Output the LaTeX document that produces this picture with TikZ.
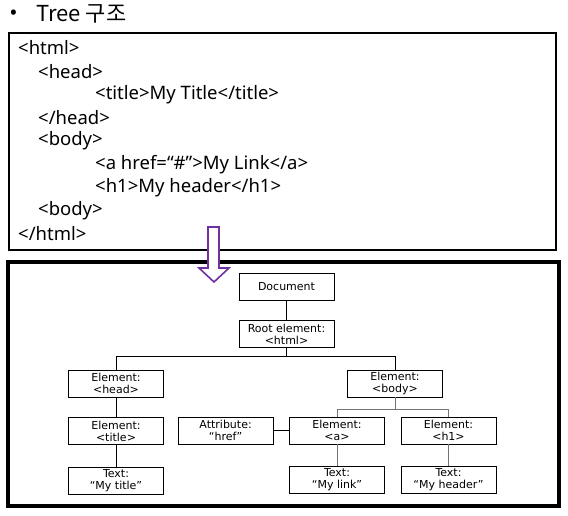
\documentclass[tikz,border=0pt]{standalone}
\usepackage{fontspec}
\setmainfont{Noto Sans}
\newfontfamily\krfont{Noto Sans CJK KR}
\newfontfamily\treefont{DejaVu Sans}
\usepackage{xcolor}
\usetikzlibrary{positioning}
\definecolor{arrowpurple}{RGB}{112,48,160}

\begin{document}
\begin{tikzpicture}[
    x=1pt, y=-1pt,
    code/.style={anchor=west, inner sep=0pt, font=\fontsize{18.5}{20}\selectfont},
    elem/.style={draw, minimum width=95pt, minimum height=27pt, inner sep=1pt, align=center,
        font=\treefont\fontsize{11}{12}\selectfont},
    link/.style={draw, line width=0.8pt},
    sublink/.style={draw=black!55, line width=0.8pt},
    node distance=20pt
]
\useasboundingbox (0,0) rectangle (568,516);

% title
\node[anchor=west, inner sep=0pt, font=\krfont\fontsize{20}{22}\selectfont] (bullet) at (10,14) {•};
\node[anchor=west, inner sep=0pt, font=\krfont\fontsize{22}{24}\selectfont] (title) at (36,14) {Tree 구조};

% html source
\draw[line width=2pt] (9,33) rectangle (556,250);
\node[code] (l0) at (18,48) {<html>};
\node[code] (l1) at (38,72) {<head>};
\node[code] (l2) at (95,95) {<title>My Title</title>};
\node[code] (l3) at (38,118) {</head>};
\node[code] (l4) at (38,141) {<body>};
\node[code] (l5) at (95,165) {<a href=“\#”>My Link</a>};
\node[code] (l6) at (95,188) {<h1>My header</h1>};
\node[code] (l7) at (38,211) {<body>};
\node[code] (l8) at (18,234) {</html>};

% tree
\draw[line width=3.5pt] (8,262) rectangle (559,506);
\node[elem] (doc) at (286.5,286.5) {Document};
\node[elem, below=of doc] (root) {Root element:\\<html>};
\node[elem] (head) at (116,383.5) {Element:\\<head>};
\node[elem, below=of head] (ttl) {Element:\\<title>};
\node[elem, below=22pt of ttl] (ttltext) {Text:\\“My title”};
\node[elem] (body) at (395,383.5) {Element:\\<body>};
\node[elem] (a) at (337,430.5) {Element:\\<a>};
\node[elem, below=22pt of a] (atext) {Text:\\“My link”};
\node[elem, left=16pt of a] (attr) {Attribute:\\“href”};
\node[elem] (h1) at (448.5,430.5) {Element:\\<h1>};
\node[elem, below=22pt of h1] (h1text) {Text:\\“My header”};

\draw[link] (doc) -- (root);
\draw[link] (root.south) -- ++(0,9) -| (head.north);
\draw[link] (root.south) -- ++(0,9) -| (body.north);
\draw[link] (head) -- (ttl);
\draw[link] (ttl) -- (ttltext);
\draw[link] (attr) -- (a);
\draw[sublink] (body.south) -- ++(0,12) -| (a.north);
\draw[sublink] (body.south) -- ++(0,12) -| (h1.north);
\draw[sublink] (a) -- (atext);
\draw[sublink] (h1) -- (h1text);

% arrow
\draw[arrowpurple, line width=1.6pt, fill=white, line join=miter]
    (208,227) -- (219,227) -- (219,268) -- (229,268) -- (214,282) -- (199,268) -- (208,268) -- cycle;
\end{tikzpicture}
\end{document}
